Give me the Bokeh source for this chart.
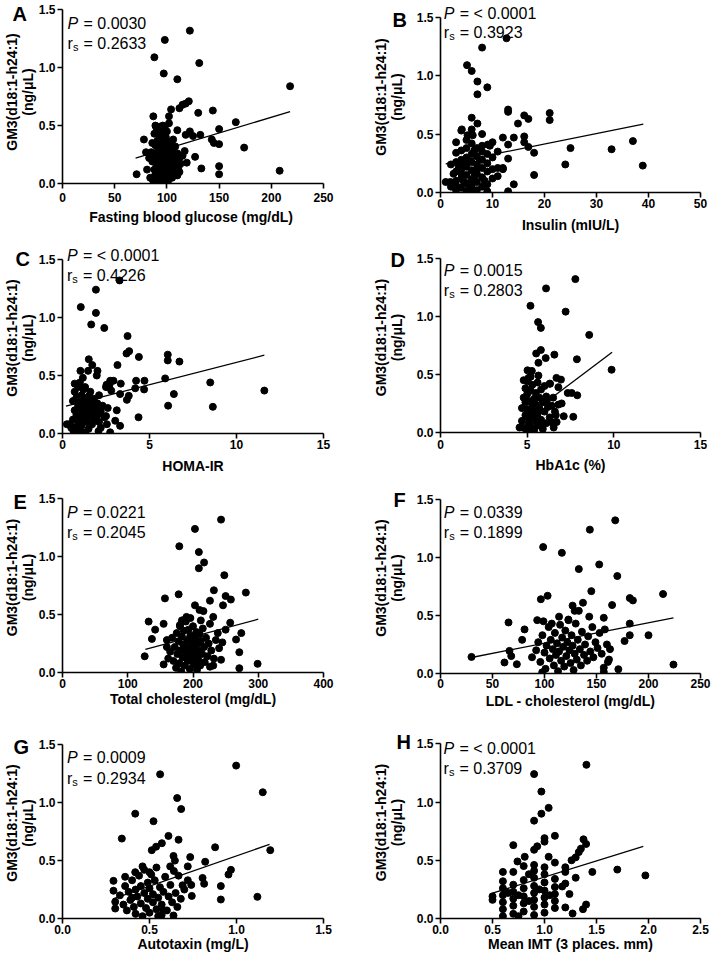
from bokeh.plotting import figure
from bokeh.models import Range1d, FixedTicker, Label, NumeralTickFormatter
from bokeh.layouts import column, row
from bokeh.embed import file_html
from bokeh.resources import INLINE

FONT = "Liberation Sans"
Y_LABEL = "GM3(d18:1-h24:1)\n(ng/\u03bcL)"
Y_TICKS = [0, 0.5, 1.0, 1.5]
Y_MAX = 1.5

# ---------------- Panel A : fasting blood glucose ----------------
A_x = [122, 98, 88, 131, 97, 110, 218, 121, 118, 115, 112, 104, 130, 144, 166, 102, 87, 102, 150, 110,
       122, 118, 132, 125, 143, 145, 150, 174, 127, 150, 133, 150, 208, 71, 78, 80,
       84, 86, 87, 88, 88, 88, 89, 89, 90, 90, 90, 91, 91, 92, 92, 92, 93, 93, 93, 94, 94, 94, 95, 95,
       95, 96, 96, 96, 97, 97, 97, 98, 98, 98, 99, 99, 99, 100, 100, 100, 101, 101, 101, 102, 102, 103,
       103, 104, 104, 105, 105, 106, 106, 107, 107, 108, 108, 109, 110, 110, 111, 112, 112, 113, 115,
       117, 119, 86, 85, 83, 81, 89, 96, 91, 99]
A_y = [1.32, 1.24, 1.09, 1.04, 0.95, 0.90, 0.84, 0.71, 0.69, 0.68, 0.65, 0.64, 0.61, 0.63, 0.53, 0.58, 0.58, 0.52, 0.47, 0.46,
       0.45, 0.42, 0.42, 0.41, 0.38, 0.35, 0.34, 0.31, 0.23, 0.15, 0.13, 0.08, 0.11, 0.08, 0.38, 0.27,
       0.05, 0.19, 0.02, 0.12, 0.26, 0.43, 0.33, 0.08, 0.48, 0.22, 0.16, 0.37, 0.03, 0.29, 0.44, 0.10, 0.20, 0.49, 0.34, 0.06, 0.25, 0.40, 0.14, 0.31,
       0.47, 0.01, 0.21, 0.37, 0.09, 0.28, 0.43, 0.17, 0.34, 0.49, 0.04, 0.24, 0.40, 0.12, 0.30, 0.45, 0.19, 0.36, 0.02, 0.07, 0.26, 0.15,
       0.33, 0.21, 0.10, 0.05, 0.28, 0.16, 0.38, 0.23, 0.09, 0.13, 0.32, 0.19, 0.07, 0.26, 0.14, 0.10, 0.22, 0.17, 0.24,
       0.28, 0.18, 0.35, 0.27, 0.22, 0.12, 0.50, 0.50, 0.27, 0.15]
A_fit_x = [70, 218]
A_fit_y = [0.22, 0.62]

# ---------------- Panel B : insulin ----------------
B_x = [12.7, 8.0, 5.1, 6.0, 7.1, 9.0, 7.1, 13.0, 13.0, 21, 21, 16.1, 16.9, 6.0, 14.9, 7.1, 4.1, 6.0, 5.2, 6.2,
       8.0, 12.0, 14.1, 16.1, 16.1, 16.9, 10, 9.1, 13, 18, 25, 32.9, 37, 38.9, 24, 13, 10, 11, 12, 18,
       14.1, 13, 9, 1, 1.9, 2.9,
       2, 2, 3, 3, 3, 3, 3, 3, 4, 4, 4, 4, 4, 4, 5, 5, 5, 5, 5, 5, 5, 6, 6, 6, 6, 6, 6, 6, 7, 7, 7, 7, 7, 7, 7,
       8, 8, 8, 8, 8, 8, 9, 9, 9, 9, 10, 10, 11, 11, 12, 4.5, 5.5, 6.5, 3.5, 2.5, 7.5, 8.5, 5.5, 6.5, 4.5, 9.5, 3, 4]
B_y = [1.32, 1.24, 1.09, 1.04, 0.95, 0.90, 0.84, 0.71, 0.69, 0.68, 0.62, 0.66, 0.63, 0.64, 0.59, 0.59, 0.54, 0.54, 0.49, 0.49,
       0.50, 0.47, 0.47, 0.48, 0.43, 0.39, 0.43, 0.41, 0.41, 0.34, 0.38, 0.37, 0.44, 0.23, 0.24, 0.29, 0.30, 0.21, 0.21, 0.15,
       0.07, 0.01, 0.01, 0.09, 0.09, 0.04,
       0.24, 0.05, 0.02, 0.10, 0.18, 0.26, 0.34, 0.43, 0.04, 0.12, 0.20, 0.28, 0.36, 0.53, 0.01, 0.08, 0.15, 0.22, 0.30, 0.38, 0.45,
       0.03, 0.11, 0.19, 0.26, 0.33, 0.42, 0.06, 0.02, 0.09, 0.16, 0.24, 0.31, 0.38, 0.20,
       0.05, 0.13, 0.21, 0.28, 0.35, 0.40, 0.07, 0.18, 0.25, 0.33, 0.12, 0.20, 0.35, 0.14, 0.20, 0.24, 0.27, 0.14, 0.22, 0.16, 0.28,
       0.10, 0.05, 0.36, 0.09, 0.40, 0.06, 0.16]
B_fit_x = [1, 39]
B_fit_y = [0.245, 0.585]

# ---------------- Panel C : HOMA-IR ----------------
C_x = [3.28, 1.92, 1.05, 1.92, 1.65, 2.4, 3.74, 3.83, 3.68, 4.39, 6.05, 6.05, 6.72, 3.16, 1.51, 1.71, 1.03, 1.47, 2.01, 1.97,
       1.17, 5.9, 8.49, 6.4, 6.07, 8.64, 11.6, 4.71, 4.23, 4.69, 4.18, 3.81, 3.7, 3.35, 2.93, 2.74, 3.31, 2.53, 4.37, 3.12,
       3.03, 3.31, 2.74, 2.07, 2.55, 2.5, 1.36, 0.25, 0.52, 0.63,
       0.6, 0.6, 0.7, 0.7, 0.7, 0.8, 0.8, 0.8, 0.9, 0.9, 0.9, 1.0, 1.0, 1.0, 1.1, 1.1, 1.1, 1.2, 1.2, 1.2, 1.3, 1.3, 1.3,
       1.4, 1.4, 1.5, 1.5, 1.5, 1.6, 1.6, 1.7, 1.7, 1.8, 1.8, 1.9, 1.9, 2.0, 2.0, 2.1, 2.1, 2.2, 2.3, 2.4, 2.5, 2.6, 2.7, 2.8,
       1.0, 1.3, 0.5, 0.4, 2.2, 1.6, 0.9, 1.1]
C_y = [1.32, 1.24, 1.09, 1.04, 0.94, 0.91, 0.84, 0.71, 0.69, 0.66, 0.68, 0.63, 0.62, 0.59, 0.64, 0.59, 0.54, 0.54, 0.54, 0.50,
       0.48, 0.475, 0.44, 0.34, 0.24, 0.23, 0.37, 0.455, 0.455, 0.38, 0.39, 0.325, 0.29, 0.43, 0.455, 0.455, 0.34, 0.42, 0.14, 0.20,
       0.11, 0.066, 0.01, 0.02, 0.08, 0.15, 0.17, 0.08, 0.06, 0.02,
       0.12, 0.28, 0.20, 0.36, 0.43, 0.05, 0.16, 0.31, 0.24, 0.09, 0.40, 0.14, 0.27, 0.03, 0.19, 0.33, 0.07, 0.22, 0.12, 0.38, 0.01, 0.17, 0.29,
       0.25, 0.10, 0.20, 0.32, 0.04, 0.14, 0.27, 0.23, 0.08, 0.18, 0.30, 0.12, 0.21, 0.26, 0.16, 0.33, 0.10, 0.19, 0.24, 0.14, 0.40, 0.22, 0.42, 0.37,
       0.44, 0.40, 0.05, 0.08, 0.05, 0.36, 0.30, 0.24]
C_fit_x = [0.2, 11.6]
C_fit_y = [0.235, 0.675]

# ---------------- Panel D : HbA1c ----------------
D_x = [7.78, 6.09, 5.19, 7.22, 5.63, 5.79, 8.58, 5.79, 5.52, 6.07, 6.57, 7.87, 9.87, 5.65, 5.02, 5.27, 5.08, 5.65, 6.69, 6.95,
       6.32, 6.8, 7.34, 7.57, 7.89, 6.99, 7.11, 7.66, 6.65, 6.44, 6.53, 5.88, 4.56, 6.13, 6.42,
       4.7, 4.7, 4.8, 4.8, 4.9, 4.9, 4.9, 5.0, 5.0, 5.0, 5.0, 5.1, 5.1, 5.1, 5.2, 5.2, 5.2, 5.3, 5.3, 5.3, 5.4, 5.4, 5.4,
       5.5, 5.5, 5.5, 5.6, 5.6, 5.6, 5.7, 5.7, 5.8, 5.8, 5.9, 5.9, 6.0, 6.0, 6.1, 6.1, 6.2, 6.3, 6.3, 6.5, 6.6, 6.7, 6.8,
       5.2, 4.8]
D_y = [1.32, 1.24, 1.09, 1.04, 0.95, 0.90, 0.84, 0.71, 0.68, 0.64, 0.67, 0.63, 0.54, 0.60, 0.535, 0.53, 0.47, 0.49, 0.47, 0.455,
       0.42, 0.39, 0.34, 0.34, 0.32, 0.25, 0.14, 0.135, 0.15, 0.086, 0.043, 0.05, 0.043, 0.27, 0.23,
       0.10, 0.21, 0.30, 0.04, 0.15, 0.38, 0.26, 0.01, 0.20, 0.33, 0.44, 0.08, 0.27, 0.12, 0.17, 0.36, 0.05, 0.23, 0.41, 0.14, 0.02, 0.29, 0.19,
       0.10, 0.34, 0.24, 0.06, 0.43, 0.16, 0.21, 0.30, 0.11, 0.37, 0.26, 0.03, 0.18, 0.40, 0.08, 0.31, 0.22, 0.13, 0.42, 0.30, 0.18, 0.09, 0.24,
       0.48, 0.45]
D_fit_x = [4.6, 9.9]
D_fit_y = [0.095, 0.69]

# ---------------- Panel E : total cholesterol ----------------
E_x = [243, 203, 179, 209, 217, 209, 248, 232, 281, 250, 258, 226, 157, 178, 246, 203, 210, 216, 132, 142,
       155, 137, 126, 257, 274, 266, 271, 271, 299, 231, 243, 231, 226, 190, 183, 180, 160, 155, 162,
       168, 170, 172, 174, 175, 176, 178, 179, 180, 181, 182, 183, 184, 185, 186, 187, 188, 189, 190, 191,
       192, 193, 194, 195, 196, 197, 198, 199, 200, 201, 202, 203, 204, 205, 206, 207, 208, 209, 210, 211,
       212, 214, 215, 217, 218, 220, 222, 224, 226, 228, 232, 235, 238, 240, 245, 250, 165, 160, 212, 196, 185]
E_y = [1.32, 1.24, 1.09, 1.04, 0.95, 0.90, 0.84, 0.71, 0.69, 0.66, 0.63, 0.62, 0.64, 0.675, 0.58, 0.58, 0.54, 0.53, 0.44, 0.37,
       0.42, 0.29, 0.14, 0.43, 0.34, 0.285, 0.175, 0.037, 0.075, 0.06, 0.11, 0.48, 0.42, 0.48, 0.45, 0.40, 0.28, 0.07, 0.12,
       0.30, 0.10, 0.22, 0.04, 0.34, 0.16, 0.27, 0.08, 0.41, 0.19, 0.01, 0.31, 0.13, 0.24, 0.36, 0.06, 0.20, 0.44, 0.15, 0.28,
       0.10, 0.37, 0.22, 0.03, 0.32, 0.17, 0.26, 0.12, 0.40, 0.07, 0.21, 0.30, 0.15, 0.35, 0.02, 0.25, 0.11, 0.19, 0.33, 0.06,
       0.27, 0.16, 0.38, 0.22, 0.09, 0.30, 0.14, 0.25, 0.05, 0.19, 0.12, 0.28, 0.34, 0.21, 0.26, 0.37, 0.18, 0.22, 0.45, 0.47, 0.45]
E_fit_x = [127, 300]
E_fit_y = [0.20, 0.46]

# ---------------- Panel F : LDL cholesterol ----------------
F_x = [168, 143.6, 98.7, 116.7, 152.6, 133, 170, 145, 214, 182, 185, 103, 96.5, 127, 137, 165, 129, 133, 65.4, 80.8,
       78.5, 93, 114, 123, 143, 157, 182, 182, 200, 177, 29.8, 61.5, 73.4, 66.3, 68, 171, 224, 157, 157, 97.8, 161, 163,
       88, 92, 94, 96, 98, 100, 101, 102, 104, 105, 106, 108, 109, 110, 111, 112, 113, 114, 115, 116, 117, 118, 119, 120,
       121, 122, 124, 125, 126, 127, 128, 129, 130, 131, 132, 134, 135, 136, 138, 139, 141, 142, 144, 146, 147, 149, 151,
       153, 155, 158, 160, 162, 99, 107, 123]
F_y = [1.32, 1.24, 1.09, 1.04, 0.94, 0.90, 0.84, 0.71, 0.685, 0.65, 0.63, 0.67, 0.64, 0.585, 0.61, 0.59, 0.54, 0.54, 0.44, 0.38,
       0.29, 0.46, 0.49, 0.465, 0.49, 0.48, 0.43, 0.33, 0.33, 0.28, 0.143, 0.095, 0.08, 0.195, 0.15, 0.037, 0.077, 0.05, 0.014, 0.01, 0.10, 0.21,
       0.14, 0.20, 0.27, 0.10, 0.33, 0.18, 0.04, 0.24, 0.40, 0.13, 0.29, 0.21, 0.07, 0.35, 0.16, 0.26, 0.02, 0.19, 0.42, 0.11, 0.31, 0.23, 0.06, 0.37,
       0.15, 0.27, 0.20, 0.09, 0.33, 0.24, 0.03, 0.17, 0.43, 0.12, 0.29, 0.21, 0.07, 0.36, 0.16, 0.25, 0.11, 0.32, 0.19, 0.40, 0.14, 0.27, 0.22,
       0.35, 0.17, 0.38, 0.25, 0.12, 0.45, 0.43, 0.46]
F_fit_x = [31, 224]
F_fit_y = [0.14, 0.48]

# ---------------- Panel G : autotaxin ----------------
G_x = [0.998, 0.561, 1.151, 0.659, 0.682, 0.418, 0.523, 0.341, 0.667, 0.609, 0.571, 0.538, 0.513, 0.877, 1.194, 0.638, 0.646, 0.734, 0.72, 0.82,
       0.968, 0.954, 0.805, 0.814, 0.91, 0.91, 1.12, 0.667, 0.619, 0.743, 0.69, 0.638, 0.58, 0.293, 0.293, 0.303, 0.303, 0.36, 0.418,
       0.33, 0.35, 0.36, 0.37, 0.38, 0.39, 0.40, 0.41, 0.42, 0.42, 0.43, 0.44, 0.45, 0.45, 0.46, 0.47, 0.47, 0.48, 0.49, 0.49,
       0.50, 0.50, 0.51, 0.52, 0.52, 0.53, 0.54, 0.54, 0.55, 0.56, 0.57, 0.57, 0.58, 0.59, 0.60, 0.61, 0.62, 0.63, 0.64, 0.65,
       0.66, 0.68, 0.70, 0.72, 0.74, 0.46, 0.50, 0.40, 0.55]
G_y = [1.32, 1.245, 1.09, 1.04, 0.945, 0.905, 0.84, 0.69, 0.68, 0.713, 0.65, 0.62, 0.59, 0.615, 0.59, 0.54, 0.50, 0.53, 0.45, 0.49,
       0.42, 0.38, 0.35, 0.30, 0.28, 0.164, 0.187, 0.37, 0.45, 0.195, 0.287, 0.026, 0.072, 0.325, 0.24, 0.144, 0.086, 0.36, 0.40,
       0.20, 0.12, 0.28, 0.07, 0.23, 0.16, 0.33, 0.10, 0.25, 0.04, 0.19, 0.37, 0.13, 0.28, 0.02, 0.22, 0.42, 0.09, 0.31, 0.17,
       0.26, 0.05, 0.38, 0.14, 0.21, 0.33, 0.08, 0.44, 0.18, 0.27, 0.03, 0.12, 0.23, 0.36, 0.07, 0.19, 0.29, 0.14, 0.41, 0.22,
       0.10, 0.17, 0.25, 0.33, 0.29, 0.45, 0.40, 0.18, 0.02]
G_fit_x = [0.29, 1.19]
G_fit_y = [0.17, 0.64]

# ---------------- Panel H : mean IMT ----------------
H_x = [1.403, 0.90, 0.97, 1.04, 0.97, 0.90, 1.10, 1.00, 1.00, 0.93, 0.90, 0.70, 1.375, 1.40, 1.35, 1.33, 1.30, 1.26, 1.46, 1.70,
       1.97, 1.30, 1.04, 0.81, 0.74, 0.60, 1.10, 1.20, 1.17, 1.24, 1.20, 1.27, 1.40, 1.37,
       0.6, 0.6, 0.6, 0.6, 0.6, 0.6, 0.7, 0.7, 0.7, 0.7, 0.7, 0.7, 0.8, 0.8, 0.8, 0.8, 0.8, 0.8,
       0.9, 0.9, 0.9, 0.9, 0.9, 0.9, 0.9, 0.9, 1.0, 1.0, 1.0, 1.0, 1.0, 1.0, 1.0, 1.1, 1.1, 1.1, 1.1, 1.1,
       1.2, 1.2, 0.65, 0.75, 0.85, 0.95, 1.05, 0.5, 0.5, 0.75, 0.85]
H_y = [1.32, 1.24, 1.09, 0.95, 0.90, 0.84, 0.71, 0.69, 0.66, 0.62, 0.59, 0.63, 0.68, 0.64, 0.60, 0.57, 0.525, 0.50, 0.40, 0.42,
       0.37, 0.35, 0.53, 0.53, 0.49, 0.40, 0.48, 0.44, 0.275, 0.21, 0.095, 0.043, 0.12, 0.08,
       0.02, 0.08, 0.14, 0.20, 0.26, 0.32, 0.04, 0.11, 0.17, 0.23, 0.29, 0.40, 0.06, 0.13, 0.19, 0.26, 0.33, 0.45,
       0.03, 0.10, 0.16, 0.22, 0.28, 0.35, 0.41, 0.46, 0.05, 0.12, 0.18, 0.24, 0.31, 0.38, 0.44, 0.09, 0.15, 0.21, 0.27, 0.34,
       0.30, 0.40, 0.22, 0.20, 0.15, 0.25, 0.20, 0.16, 0.19, 0.02, 0.38]
H_fit_x = [0.5, 1.95]
H_fit_y = [0.217, 0.62]

# ---------------- panel texts ----------------
LETTERS = ["A", "B", "C", "D", "E", "F", "G", "H"]
X_LABELS = ["Fasting blood glucose  (mg/dL)", "Insulin (mIU/L)", "HOMA-IR", "HbA1c (%)",
            "Total cholesterol (mg/dL)", "LDL - cholesterol (mg/dL)", "Autotaxin (mg/L)",
            "Mean IMT (3 places. mm)"]
P_VALUES = ["0.0030", "< 0.0001", "< 0.0001", "0.0015", "0.0221", "0.0339", "0.0009", "< 0.0001"]
RS_VALUES = ["0.2633", "0.3923", "0.4226", "0.2803", "0.2045", "0.1899", "0.2934", "0.3709"]
X_MAX = [250, 50, 15, 15, 400, 250, 1.5, 2.5]
X_TICKS = [[0, 50, 100, 150, 200, 250], [0, 10, 20, 30, 40, 50], [0, 5, 10, 15], [0, 5, 10, 15],
           [0, 100, 200, 300, 400], [0, 50, 100, 150, 200, 250], [0, 0.5, 1.0, 1.5],
           [0, 0.5, 1.0, 1.5, 2.0, 2.5]]
X_FORMAT = ["0", "0", "0", "0", "0", "0", "0.0", "0.0"]

DATA = [(A_x, A_y, A_fit_x, A_fit_y), (B_x, B_y, B_fit_x, B_fit_y), (C_x, C_y, C_fit_x, C_fit_y),
        (D_x, D_y, D_fit_x, D_fit_y), (E_x, E_y, E_fit_x, E_fit_y), (F_x, F_y, F_fit_x, F_fit_y),
        (G_x, G_y, G_fit_x, G_fit_y), (H_x, H_y, H_fit_x, H_fit_y)]

# layout (pixels): fig_w, fig_h, frame_left, frame_w, y(1.5), y(0), extra space above 1.5,
#                  ylabel standoff, xtick standoff, xlabel standoff
GEOM = [(355, 240, 62, 261, 9.3, 183.0, 9, 0, 4, 4),
        (356, 240, 85, 262, 16.7, 191.7, 16, 9, 1, 6),
        (355, 240, 62, 261, 19.0, 192.7, 17, 0, 1, 6),
        (356, 240, 85, 261, 17.7, 192.3, 16, 9, 2, 5),
        (355, 240, 62, 261, 18.3, 192.3, 16, 0, 1, 0),
        (356, 240, 85, 260, 19.0, 193.3, 17, 9, 0, 2),
        (355, 240, 62, 261, 24.3, 198.3, 17, 0, 1, -1),
        (356, 240, 84, 261, 23.3, 197.7, 17, 9, 1, -1)]
# text placement relative to the (0, 1.5) corner: P baseline below, rs baseline below, dx,
# letter baseline below, letter dx
TXT = [(13.4, 33.4, 5.0, 11.4, -50), (-4.0, 15.6, 3.3, 9.3, -48),
       (-4.0, 16.0, 4.4, 6.0, -47), (12.3, 32.0, 3.3, 9.0, -50),
       (13.4, 33.4, 4.4, 10.0, -49), (12.7, 32.7, 3.3, 7.7, -47),
       (12.4, 34.0, 4.4, 9.0, -49), (4.4, 24.4, 3.0, 5.0, -44)]


def make_panel(i):
    fw, fh, fl, fwid, y15, y0, ext, ylst, xtst, xlst = GEOM[i]
    axis_h = y0 - y15
    top_border = int(round(y15 - ext))
    bottom_border = int(round(fh - y0))
    y_end = Y_MAX * (axis_h + (y15 - top_border)) / axis_h
    xs, ys, fx, fy = DATA[i]
    p = figure(width=fw, height=fh, min_border_left=fl, min_border_right=fw - fl - fwid,
               min_border_top=top_border, min_border_bottom=bottom_border,
               x_range=Range1d(0, X_MAX[i]), y_range=Range1d(0, y_end),
               output_backend="svg", toolbar_location=None)
    p.outline_line_color = None
    p.xgrid.visible = False
    p.ygrid.visible = False
    p.background_fill_color = "white"
    p.border_fill_color = "white"

    p.scatter(xs, ys, size=7, color="black", line_color="black")
    p.line(fx, fy, line_width=1.3, color="black")

    p.xaxis.ticker = FixedTicker(ticks=X_TICKS[i])
    p.xaxis.formatter = NumeralTickFormatter(format=X_FORMAT[i])
    p.yaxis.ticker = FixedTicker(ticks=Y_TICKS)
    p.yaxis.formatter = NumeralTickFormatter(format="0.0")
    p.yaxis.bounds = (0, Y_MAX)
    p.xaxis.axis_label = X_LABELS[i]
    p.yaxis.axis_label = Y_LABEL
    for ax in (p.xaxis[0], p.yaxis[0]):
        ax.axis_line_width = 1.6
        ax.axis_line_color = "black"
        ax.major_tick_line_width = 1.6
        ax.major_tick_line_color = "black"
        ax.major_tick_out = 5
        ax.major_tick_in = 0
        ax.minor_tick_line_color = None
        ax.major_label_text_font = FONT
        ax.major_label_text_font_size = "12px"
        ax.major_label_text_font_style = "bold"
        ax.major_label_text_color = "black"
        ax.axis_label_text_font = FONT
        ax.axis_label_text_font_size = "14px"
        ax.axis_label_text_font_style = "bold"
        ax.axis_label_text_color = "black"
        ax.axis_label_text_line_height = 1.0
    p.yaxis.major_label_standoff = 2
    p.yaxis.axis_label_standoff = ylst
    p.xaxis.major_label_standoff = xtst
    p.xaxis.axis_label_standoff = xlst

    pb, rb, dx, lb, ldx = TXT[i]
    common = dict(x=0, y=Y_MAX, text_font=FONT, text_color="black", text_baseline="alphabetic",
                  text_align="left")
    p.add_layout(Label(text="P", x_offset=dx, y_offset=-pb, text_font_size="16px",
                       text_font_style="italic", **common))
    p.add_layout(Label(text="= " + P_VALUES[i], x_offset=dx + 16, y_offset=-pb,
                       text_font_size="16px", **common))
    p.add_layout(Label(text="r", x_offset=dx, y_offset=-rb, text_font_size="16px", **common))
    p.add_layout(Label(text="s", x_offset=dx + 5.4, y_offset=-rb - 3.5, text_font_size="11px", **common))
    p.add_layout(Label(text="= " + RS_VALUES[i], x_offset=dx + 16, y_offset=-rb,
                       text_font_size="16px", **common))

    # panel letter, placed as the plot title, pulled down beside the top of the y axis
    extra = y15 - top_border
    p.title.text = LETTERS[i]
    p.title.align = "left"
    p.title.offset = ldx
    p.title.vertical_align = "bottom"
    p.title.standoff = -2 * (lb + extra + 4)
    p.title.text_font = FONT
    p.title.text_font_size = "20px"
    p.title.text_font_style = "bold"
    p.title.text_color = "black"
    return p


panels = [make_panel(i) for i in range(8)]
left_col = column(panels[0], panels[2], panels[4], panels[6])
right_col = column(panels[1], panels[3], panels[5], panels[7])
layout = row(left_col, right_col)

open("out.html", "w").write(file_html(layout, INLINE))
